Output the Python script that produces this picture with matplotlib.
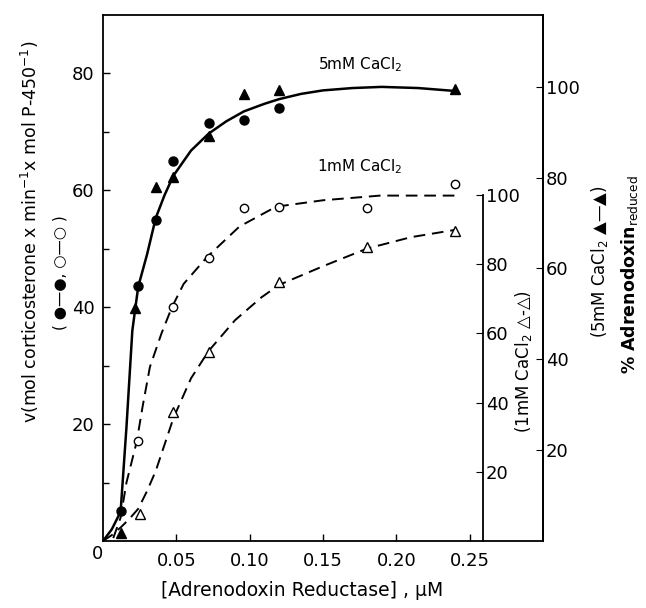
import numpy as np
import matplotlib
matplotlib.use("Agg")
import matplotlib.pyplot as plt

plt.rcParams["font.family"] = ["DejaVu Sans"]

# -------------------------------------------------------------------------
# DATA  (x = [Adrenodoxin Reductase], uM)
# -------------------------------------------------------------------------
# 5 mM CaCl2, v (left axis)
x_fc = [0.012, 0.024, 0.036, 0.048, 0.072, 0.096, 0.120]
v_fc = [5.1, 43.7, 55.0, 65.1, 71.6, 72.0, 74.1]

# 5 mM CaCl2, % adrenodoxin reduced (outer right axis)
x_ft = [0.012, 0.022, 0.036, 0.048, 0.072, 0.096, 0.120, 0.240]
p_ft = [1.8, 51.4, 78.0, 80.2, 89.1, 98.5, 99.2, 99.6]

# 1 mM CaCl2, v (left axis)
x_oc = [0.024, 0.048, 0.072, 0.096, 0.120, 0.180, 0.240]
v_oc = [17.1, 40.0, 48.4, 57.0, 57.2, 57.0, 61.1]

# 1 mM CaCl2, % adrenodoxin reduced (inner right axis)
x_ot = [0.025, 0.048, 0.072, 0.120, 0.180, 0.240]
p_ot = [7.8, 37.3, 54.7, 74.7, 85.0, 89.7]

# drawn curves
x_solid = [0, 0.006, 0.012, 0.016, 0.020, 0.024, 0.030, 0.036, 0.042, 0.048,
           0.060, 0.072, 0.084, 0.096, 0.110, 0.120, 0.135, 0.150, 0.170,
           0.190, 0.215, 0.240]
y_solid = [0, 2.0, 5.0, 19.5, 36.0, 43.5, 49.0, 55.3, 59.2, 62.5,
           66.8, 69.7, 71.8, 73.5, 74.8, 75.6, 76.5, 77.1, 77.5,
           77.7, 77.5, 77.0]

x_dash_c = [0.007, 0.012, 0.016, 0.020, 0.023, 0.027, 0.032, 0.040, 0.047,
            0.055, 0.071, 0.093, 0.118, 0.150, 0.189, 0.240]
y_dash_c = [0.5, 4.0, 10.0, 14.0, 17.0, 23.0, 29.8, 35.6, 40.0,
            44.0, 48.6, 53.8, 57.2, 58.3, 59.1, 59.1]

x_dash_t = [0, 0.006, 0.012, 0.018, 0.024, 0.030, 0.036, 0.048, 0.060, 0.072,
            0.090, 0.108, 0.120, 0.150, 0.180, 0.210, 0.240]
p_dash_t = [0, 1.7, 3.9, 6.4, 9.3, 14.4, 20.3, 35.5, 47.0, 54.9,
            63.8, 70.4, 74.0, 79.4, 84.5, 87.8, 89.9]

xticks = [0.05, 0.10, 0.15, 0.20, 0.25]
xticklabels = ["0.05", "0.10", "0.15", "0.20", "0.25"]

# -------------------------------------------------------------------------
# FIGURE
# -------------------------------------------------------------------------
W, H = 646, 608
fig = plt.figure(figsize=(W / 100, H / 100), dpi=100)
ax = fig.add_axes([103 / W, 1 - 541 / H, 440 / W, 526 / H])


def px(x, y):
    return x / W, 1 - y / H


lw_axis = 1.3
dash = (6, 3.5)

ax.set_xlim(0, 0.30)
ax.set_ylim(0, 90)
ax.set_xticks(xticks)
ax.set_xticklabels(xticklabels)
ax.set_yticks([20, 40, 60, 80])
ax.set_yticks([10, 30, 50, 70], minor=True)
ax.tick_params(axis="both", which="both", direction="in", labelsize=13, width=1)
ax.tick_params(axis="both", which="major", length=5)
ax.tick_params(axis="both", which="minor", length=4)
ax.tick_params(axis="x", pad=8)
ax.tick_params(axis="y", pad=6)
for s in ax.spines.values():
    s.set_linewidth(lw_axis)

ax.plot(x_solid, y_solid, color="black", lw=1.8, zorder=2)
ax.plot(x_dash_c, y_dash_c, color="black", lw=1.4, ls=(0, dash), zorder=2)
ax.plot(x_fc, v_fc, "o", color="black", ms=6.5, zorder=4)
ax.plot(x_oc, v_oc, "o", mfc="white", mec="black", mew=1, ms=6, zorder=4)

# inner right axis: 1 mM CaCl2 % reduced
ax_in = ax.twinx()
ax_in.set_ylim(0, 152)
for k in ["top", "left", "bottom"]:
    ax_in.spines[k].set_visible(False)
ax_in.spines["right"].set_position(("axes", 380 / 440))
ax_in.spines["right"].set_bounds(0, 100)
ax_in.spines["right"].set_linewidth(lw_axis)
ax_in.set_yticks([20, 40, 60, 80, 100])
ax_in.tick_params(axis="y", direction="in", length=5, labelsize=13, pad=2)
ax_in.plot(x_dash_t, p_dash_t, color="black", lw=1.4, ls=(0, dash), zorder=2)
ax_in.plot(x_ot, p_ot, "^", mfc="white", mec="black", mew=1, ms=7, zorder=4)

# outer right axis: 5 mM CaCl2 % reduced
ax_out = ax.twinx()
ax_out.set_ylim(0, 115.8)
for k in ["top", "left", "bottom"]:
    ax_out.spines[k].set_visible(False)
ax_out.spines["right"].set_linewidth(lw_axis)
ax_out.set_yticks([20, 40, 60, 80, 100])
ax_out.tick_params(axis="y", direction="in", length=5, labelsize=13, pad=2)
ax_out.plot(x_ft, p_ft, "^", color="black", ms=7.5, zorder=4)

# -------------------------------------------------------------------------
# TEXT
# -------------------------------------------------------------------------
fig.text(*px(97, 554), "0", fontsize=13, ha="center", va="center")

fig.text(*px(30, 232), "v(mol corticosterone x min$^{-1}$x mol P-450$^{-1}$)",
         rotation=90, fontsize=12.5, ha="center", va="center")
fig.text(*px(60, 273), "( ●—●, ○—○ )", rotation=90, fontsize=11,
         ha="center", va="center")

fig.text(*px(302, 590), "[Adrenodoxin Reductase] , μM", fontsize=13.5,
         ha="center", va="center")

fig.text(*px(360, 65), "5mM CaCl$_2$", fontsize=11, ha="center", va="center")
fig.text(*px(360, 167), "1mM CaCl$_2$", fontsize=11, ha="center", va="center")

fig.text(*px(523, 362), "(1mM CaCl$_2$ △-△)", rotation=90, fontsize=12,
         ha="center", va="center")
fig.text(*px(599, 262), "(5mM CaCl$_2$ ▲—▲)", rotation=90, fontsize=12,
         ha="center", va="center")
fig.text(*px(630, 275), "% Adrenodoxin$_{\\mathrm{reduced}}$", rotation=90,
         fontsize=12.5, fontweight="bold", ha="center", va="center")

fig.savefig("out.png", dpi=100)
